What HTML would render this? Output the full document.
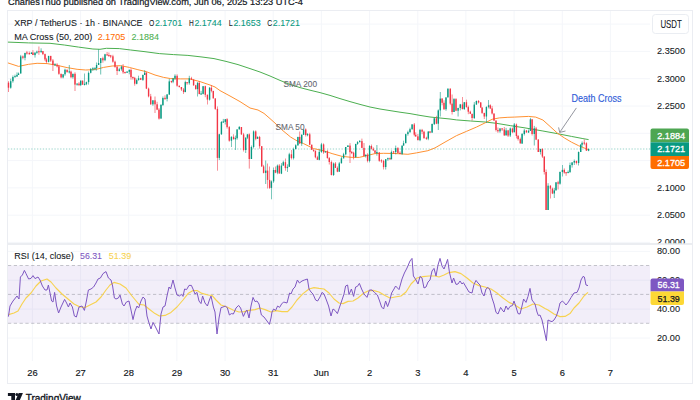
<!DOCTYPE html>
<html><head><meta charset="utf-8"><title>XRP / TetherUS chart</title>
<style>
html,body{margin:0;padding:0;background:#fff;}
body{width:700px;height:400px;overflow:hidden;font-family:"Liberation Sans",sans-serif;}
svg{display:block}
svg text{font-family:"Liberation Sans",sans-serif;}
</style></head><body>
<svg width="700" height="400" viewBox="0 0 700 400">
<rect width="700" height="400" fill="#fff"/>
<!-- top caption -->
<text x="8" y="4.6" font-size="9.9" fill="#131722" stroke="#131722" stroke-width="0.22" textLength="295" lengthAdjust="spacingAndGlyphs">CharlesThuo published on TradingView.com, Jun 06, 2025 13:23 UTC-4</text>
<!-- grid -->
<path d="M32.4 11V243M32.4 245V361" stroke="#f4f6fa" stroke-width="1"/><path d="M80.6 11V243M80.6 245V361" stroke="#f4f6fa" stroke-width="1"/><path d="M128.7 11V243M128.7 245V361" stroke="#f4f6fa" stroke-width="1"/><path d="M176.9 11V243M176.9 245V361" stroke="#f4f6fa" stroke-width="1"/><path d="M225.1 11V243M225.1 245V361" stroke="#f4f6fa" stroke-width="1"/><path d="M273.2 11V243M273.2 245V361" stroke="#f4f6fa" stroke-width="1"/><path d="M321.4 11V243M321.4 245V361" stroke="#f4f6fa" stroke-width="1"/><path d="M369.6 11V243M369.6 245V361" stroke="#f4f6fa" stroke-width="1"/><path d="M417.8 11V243M417.8 245V361" stroke="#f4f6fa" stroke-width="1"/><path d="M465.9 11V243M465.9 245V361" stroke="#f4f6fa" stroke-width="1"/><path d="M514.1 11V243M514.1 245V361" stroke="#f4f6fa" stroke-width="1"/><path d="M562.3 11V243M562.3 245V361" stroke="#f4f6fa" stroke-width="1"/><path d="M610.4 11V243M610.4 245V361" stroke="#f4f6fa" stroke-width="1"/><path d="M8 24.1H650" stroke="#f4f6fa" stroke-width="1"/><path d="M8 51.4H650" stroke="#f4f6fa" stroke-width="1"/><path d="M8 78.7H650" stroke="#f4f6fa" stroke-width="1"/><path d="M8 106.0H650" stroke="#f4f6fa" stroke-width="1"/><path d="M8 133.3H650" stroke="#f4f6fa" stroke-width="1"/><path d="M8 160.6H650" stroke="#f4f6fa" stroke-width="1"/><path d="M8 187.9H650" stroke="#f4f6fa" stroke-width="1"/><path d="M8 215.2H650" stroke="#f4f6fa" stroke-width="1"/><path d="M8 242.4H650" stroke="#f4f6fa" stroke-width="1"/><path d="M8 251.4H650" stroke="#f4f6fa" stroke-width="1"/><path d="M8 280.2H650" stroke="#f4f6fa" stroke-width="1"/><path d="M8 309.1H650" stroke="#f4f6fa" stroke-width="1"/><path d="M8 338.0H650" stroke="#f4f6fa" stroke-width="1"/>
<!-- rsi band -->
<rect x="8" y="265.5" width="642" height="57.8" fill="#7e57c2" opacity="0.1"/>
<path d="M8 265.5H650M8 294.4H650M8 323.3H650" stroke="#787b86" stroke-width="0.75" stroke-dasharray="3.2 2.6" opacity="0.55"/>
<!-- frame -->
<rect x="7.5" y="10.5" width="685" height="373" fill="none" stroke="#ebedf2" stroke-width="1"/>
<path d="M8 244H692" stroke="#e4e7ed" stroke-width="1.5"/>
<!-- price dotted line -->
<path d="M8 149H650" stroke="#089981" stroke-width="0.9" stroke-dasharray="1.3 1.6" opacity="0.45"/>
<!-- SMAs -->
<polyline points="7.9,42.1 28.6,42.9 50.0,43.3 64.3,45.0 78.6,47.1 92.9,49.0 100.0,49.3 106.4,48.3 119.3,48.6 130.7,50.0 145.0,51.7 159.3,53.6 173.6,54.6 187.9,55.4 202.0,57.0 214.0,58.6 226.0,61.4 238.0,64.6 250.0,68.6 260.0,72.0 270.0,76.0 280.0,80.4 290.0,84.4 300.0,87.6 310.0,90.2 320.0,92.6 330.0,95.4 340.0,98.6 350.0,101.6 360.0,104.4 370.0,107.0 380.0,109.0 390.0,110.6 400.0,112.2 410.0,113.6 420.0,115.4 430.0,117.0 440.0,118.0 450.0,119.0 456.4,119.9 470.7,121.0 485.0,122.0 496.4,123.3 510.7,125.7 525.0,127.9 542.9,131.0 557.1,133.6 571.4,136.4 582.9,138.6 588.6,139.6" fill="none" stroke="#4caf50" stroke-width="1" stroke-linejoin="round"/>
<polyline points="7.9,62.9 18.6,66.4 28.6,64.3 37.1,63.3 47.1,63.6 57.1,65.3 67.1,67.6 77.1,69.3 85.7,70.0 92.9,69.7 98.0,68.9 103.6,67.4 112.1,66.0 120.7,65.7 129.3,67.4 137.9,69.7 146.4,71.7 155.0,75.0 163.6,77.4 170.7,78.6 180.7,78.9 189.3,78.9 190.0,79.0 200.0,81.6 210.0,85.0 215.0,87.0 220.0,90.6 230.0,96.0 240.0,101.6 250.0,108.0 258.0,110.0 264.0,113.4 270.0,118.6 276.0,124.0 282.1,130.0 290.7,137.1 297.9,141.4 303.6,143.6 313.6,148.6 323.6,150.7 332.1,153.6 342.1,156.4 352.1,157.4 359.3,157.4 366.4,155.7 375.0,153.6 383.6,153.3 395.0,153.5 407.9,154.3 416.4,152.9 427.9,150.7 435.0,147.9 445.0,142.1 456.4,135.7 466.4,131.4 476.4,127.1 485.0,122.9 492.1,119.3 499.3,117.9 507.9,117.3 514.3,117.1 528.6,116.4 535.7,117.1 542.9,120.0 550.0,126.4 557.1,132.9 564.3,137.9 571.4,142.1 578.6,145.7 585.7,148.6 588.6,149.6" fill="none" stroke="#ff9233" stroke-width="1" stroke-linejoin="round"/>
<!-- candles -->
<path d="M8.5 81.2V92.0" stroke="#f23645" stroke-width="0.7" opacity="0.85"/><rect x="7.8" y="82.7" width="1.4" height="5.0" fill="#f23645"/>
<path d="M10.7 78.7V88.7" stroke="#089981" stroke-width="0.7" opacity="0.85"/><rect x="10.0" y="81.2" width="1.4" height="6.5" fill="#089981"/>
<path d="M12.9 75.5V82.7" stroke="#089981" stroke-width="0.7" opacity="0.85"/><rect x="12.2" y="77.0" width="1.4" height="4.2" fill="#089981"/>
<path d="M15.0 74.6V77.3" stroke="#089981" stroke-width="0.7" opacity="0.85"/><rect x="14.3" y="76.1" width="1.4" height="1.2" fill="#089981"/>
<path d="M17.0 72.4V77.0" stroke="#089981" stroke-width="0.7" opacity="0.85"/><rect x="16.3" y="74.9" width="1.4" height="1.6" fill="#089981"/>
<path d="M18.5 72.5V74.9" stroke="#089981" stroke-width="0.7" opacity="0.85"/><rect x="17.8" y="73.5" width="1.4" height="1.5" fill="#089981"/>
<path d="M20.7 54.9V73.5" stroke="#089981" stroke-width="0.7" opacity="0.85"/><rect x="20.0" y="56.4" width="1.4" height="17.1" fill="#089981"/>
<path d="M22.9 55.4V59.3" stroke="#f23645" stroke-width="0.7" opacity="0.85"/><rect x="22.2" y="56.4" width="1.4" height="1.4" fill="#f23645"/>
<path d="M25.0 52.9V60.3" stroke="#089981" stroke-width="0.7" opacity="0.85"/><rect x="24.3" y="52.9" width="1.4" height="4.9" fill="#089981"/>
<path d="M26.9 50.9V54.6" stroke="#f23645" stroke-width="0.7" opacity="0.85"/><rect x="26.2" y="52.4" width="1.4" height="1.2" fill="#f23645"/>
<path d="M29.3 51.5V54.7" stroke="#f23645" stroke-width="0.7" opacity="0.85"/><rect x="28.6" y="53.0" width="1.4" height="1.2" fill="#f23645"/>
<path d="M31.4 52.1V54.0" stroke="#089981" stroke-width="0.7" opacity="0.85"/><rect x="30.7" y="52.6" width="1.4" height="1.4" fill="#089981"/>
<path d="M32.9 50.1V55.1" stroke="#f23645" stroke-width="0.7" opacity="0.85"/><rect x="32.2" y="52.6" width="1.4" height="2.4" fill="#f23645"/>
<path d="M35.0 52.2V57.6" stroke="#089981" stroke-width="0.7" opacity="0.85"/><rect x="34.3" y="52.7" width="1.4" height="2.4" fill="#089981"/>
<path d="M36.9 50.6V53.8" stroke="#089981" stroke-width="0.7" opacity="0.85"/><rect x="36.2" y="51.6" width="1.4" height="1.2" fill="#089981"/>
<path d="M38.9 46.5V54.8" stroke="#f23645" stroke-width="0.7" opacity="0.85"/><rect x="38.2" y="51.1" width="1.4" height="1.2" fill="#f23645"/>
<path d="M41.1 48.3V53.0" stroke="#089981" stroke-width="0.7" opacity="0.85"/><rect x="40.4" y="50.8" width="1.4" height="1.2" fill="#089981"/>
<path d="M42.9 51.1V55.1" stroke="#f23645" stroke-width="0.7" opacity="0.85"/><rect x="42.2" y="51.1" width="1.4" height="3.0" fill="#f23645"/>
<path d="M45.0 53.6V60.9" stroke="#f23645" stroke-width="0.7" opacity="0.85"/><rect x="44.3" y="54.1" width="1.4" height="5.3" fill="#f23645"/>
<path d="M46.4 57.9V63.4" stroke="#f23645" stroke-width="0.7" opacity="0.85"/><rect x="45.7" y="59.4" width="1.4" height="2.5" fill="#f23645"/>
<path d="M48.6 55.9V62.4" stroke="#089981" stroke-width="0.7" opacity="0.85"/><rect x="47.9" y="55.9" width="1.4" height="6.0" fill="#089981"/>
<path d="M50.7 55.9V62.0" stroke="#f23645" stroke-width="0.7" opacity="0.85"/><rect x="50.0" y="55.9" width="1.4" height="4.7" fill="#f23645"/>
<path d="M52.9 59.0V71.0" stroke="#f23645" stroke-width="0.7" opacity="0.85"/><rect x="52.2" y="60.5" width="1.4" height="4.4" fill="#f23645"/>
<path d="M55.0 63.2V65.9" stroke="#089981" stroke-width="0.7" opacity="0.85"/><rect x="54.3" y="64.2" width="1.4" height="1.2" fill="#089981"/>
<path d="M57.1 63.2V67.4" stroke="#f23645" stroke-width="0.7" opacity="0.85"/><rect x="56.4" y="64.7" width="1.4" height="1.7" fill="#f23645"/>
<path d="M58.9 64.9V74.8" stroke="#f23645" stroke-width="0.7" opacity="0.85"/><rect x="58.2" y="66.4" width="1.4" height="7.4" fill="#f23645"/>
<path d="M61.1 73.8V78.4" stroke="#f23645" stroke-width="0.7" opacity="0.85"/><rect x="60.4" y="73.8" width="1.4" height="3.6" fill="#f23645"/>
<path d="M63.1 74.3V78.4" stroke="#089981" stroke-width="0.7" opacity="0.85"/><rect x="62.4" y="74.3" width="1.4" height="3.1" fill="#089981"/>
<path d="M65.0 68.7V75.8" stroke="#089981" stroke-width="0.7" opacity="0.85"/><rect x="64.3" y="69.7" width="1.4" height="4.6" fill="#089981"/>
<path d="M67.1 69.7V72.7" stroke="#f23645" stroke-width="0.7" opacity="0.85"/><rect x="66.4" y="69.7" width="1.4" height="2.4" fill="#f23645"/>
<path d="M69.3 65.0V73.5" stroke="#089981" stroke-width="0.7" opacity="0.85"/><rect x="68.6" y="71.3" width="1.4" height="1.2" fill="#089981"/>
<path d="M71.0 70.6V78.2" stroke="#f23645" stroke-width="0.7" opacity="0.85"/><rect x="70.3" y="71.6" width="1.4" height="5.6" fill="#f23645"/>
<path d="M72.9 73.8V78.7" stroke="#089981" stroke-width="0.7" opacity="0.85"/><rect x="72.2" y="73.8" width="1.4" height="3.4" fill="#089981"/>
<path d="M75.0 72.3V91.0" stroke="#f23645" stroke-width="0.7" opacity="0.85"/><rect x="74.3" y="73.8" width="1.4" height="10.8" fill="#f23645"/>
<path d="M77.1 83.5V85.7" stroke="#089981" stroke-width="0.7" opacity="0.85"/><rect x="76.4" y="83.5" width="1.4" height="1.2" fill="#089981"/>
<path d="M79.0 82.1V86.1" stroke="#f23645" stroke-width="0.7" opacity="0.85"/><rect x="78.3" y="83.6" width="1.4" height="1.5" fill="#f23645"/>
<path d="M80.7 80.6V86.1" stroke="#089981" stroke-width="0.7" opacity="0.85"/><rect x="80.0" y="80.6" width="1.4" height="4.5" fill="#089981"/>
<path d="M82.6 80.6V84.7" stroke="#f23645" stroke-width="0.7" opacity="0.85"/><rect x="81.9" y="80.6" width="1.4" height="4.1" fill="#f23645"/>
<path d="M84.6 73.5V85.5" stroke="#089981" stroke-width="0.7" opacity="0.85"/><rect x="83.9" y="83.8" width="1.4" height="1.2" fill="#089981"/>
<path d="M86.4 81.6V85.2" stroke="#089981" stroke-width="0.7" opacity="0.85"/><rect x="85.7" y="82.1" width="1.4" height="2.1" fill="#089981"/>
<path d="M88.6 71.4V84.6" stroke="#089981" stroke-width="0.7" opacity="0.85"/><rect x="87.9" y="72.9" width="1.4" height="9.2" fill="#089981"/>
<path d="M90.7 68.0V73.4" stroke="#089981" stroke-width="0.7" opacity="0.85"/><rect x="90.0" y="69.0" width="1.4" height="3.8" fill="#089981"/>
<path d="M92.9 67.2V70.9" stroke="#089981" stroke-width="0.7" opacity="0.85"/><rect x="92.2" y="68.2" width="1.4" height="1.2" fill="#089981"/>
<path d="M95.0 67.7V70.4" stroke="#089981" stroke-width="0.7" opacity="0.85"/><rect x="94.3" y="67.7" width="1.4" height="1.2" fill="#089981"/>
<path d="M96.6 62.5V70.6" stroke="#089981" stroke-width="0.7" opacity="0.85"/><rect x="95.9" y="65.0" width="1.4" height="3.0" fill="#089981"/>
<path d="M98.6 49.3V65.0" stroke="#089981" stroke-width="0.7" opacity="0.85"/><rect x="97.9" y="63.0" width="1.4" height="2.0" fill="#089981"/>
<path d="M100.7 58.2V74.5" stroke="#089981" stroke-width="0.7" opacity="0.85"/><rect x="100.0" y="58.2" width="1.4" height="4.8" fill="#089981"/>
<path d="M102.9 56.7V62.7" stroke="#f23645" stroke-width="0.7" opacity="0.85"/><rect x="102.2" y="58.2" width="1.4" height="2.1" fill="#f23645"/>
<path d="M105.0 53.8V61.2" stroke="#089981" stroke-width="0.7" opacity="0.85"/><rect x="104.3" y="54.3" width="1.4" height="5.9" fill="#089981"/>
<path d="M107.1 52.0V55.5" stroke="#f23645" stroke-width="0.7" opacity="0.85"/><rect x="106.4" y="54.3" width="1.4" height="1.2" fill="#f23645"/>
<path d="M108.9 52.5V56.7" stroke="#f23645" stroke-width="0.7" opacity="0.85"/><rect x="108.2" y="55.0" width="1.4" height="1.2" fill="#f23645"/>
<path d="M110.7 54.9V58.1" stroke="#f23645" stroke-width="0.7" opacity="0.85"/><rect x="110.0" y="55.4" width="1.4" height="1.2" fill="#f23645"/>
<path d="M112.9 54.8V62.7" stroke="#f23645" stroke-width="0.7" opacity="0.85"/><rect x="112.2" y="56.3" width="1.4" height="5.4" fill="#f23645"/>
<path d="M115.0 60.7V67.8" stroke="#f23645" stroke-width="0.7" opacity="0.85"/><rect x="114.3" y="61.7" width="1.4" height="5.1" fill="#f23645"/>
<path d="M117.1 65.8V75.0" stroke="#f23645" stroke-width="0.7" opacity="0.85"/><rect x="116.4" y="66.8" width="1.4" height="4.2" fill="#f23645"/>
<path d="M119.3 67.8V71.5" stroke="#089981" stroke-width="0.7" opacity="0.85"/><rect x="118.6" y="69.3" width="1.4" height="1.7" fill="#089981"/>
<path d="M121.4 65.6V70.8" stroke="#089981" stroke-width="0.7" opacity="0.85"/><rect x="120.7" y="66.6" width="1.4" height="2.7" fill="#089981"/>
<path d="M123.1 64.1V73.8" stroke="#f23645" stroke-width="0.7" opacity="0.85"/><rect x="122.4" y="66.6" width="1.4" height="5.7" fill="#f23645"/>
<path d="M125.0 71.9V73.6" stroke="#f23645" stroke-width="0.7" opacity="0.85"/><rect x="124.3" y="71.9" width="1.4" height="1.2" fill="#f23645"/>
<path d="M127.1 71.1V72.8" stroke="#089981" stroke-width="0.7" opacity="0.85"/><rect x="126.4" y="71.6" width="1.4" height="1.2" fill="#089981"/>
<path d="M129.3 69.4V74.3" stroke="#089981" stroke-width="0.7" opacity="0.85"/><rect x="128.6" y="69.9" width="1.4" height="1.9" fill="#089981"/>
<path d="M131.0 68.4V79.7" stroke="#f23645" stroke-width="0.7" opacity="0.85"/><rect x="130.3" y="69.9" width="1.4" height="7.3" fill="#f23645"/>
<path d="M132.9 76.5V79.7" stroke="#f23645" stroke-width="0.7" opacity="0.85"/><rect x="132.2" y="77.0" width="1.4" height="1.2" fill="#f23645"/>
<path d="M134.7 76.9V85.7" stroke="#f23645" stroke-width="0.7" opacity="0.85"/><rect x="134.0" y="77.9" width="1.4" height="5.8" fill="#f23645"/>
<path d="M136.7 78.6V84.3" stroke="#089981" stroke-width="0.7" opacity="0.85"/><rect x="136.0" y="80.1" width="1.4" height="3.7" fill="#089981"/>
<path d="M138.6 75.7V80.6" stroke="#089981" stroke-width="0.7" opacity="0.85"/><rect x="137.9" y="78.2" width="1.4" height="1.9" fill="#089981"/>
<path d="M140.7 77.7V79.9" stroke="#f23645" stroke-width="0.7" opacity="0.85"/><rect x="140.0" y="78.2" width="1.4" height="1.6" fill="#f23645"/>
<path d="M142.9 74.5V80.9" stroke="#089981" stroke-width="0.7" opacity="0.85"/><rect x="142.2" y="75.0" width="1.4" height="4.9" fill="#089981"/>
<path d="M144.7 70.2V75.0" stroke="#089981" stroke-width="0.7" opacity="0.85"/><rect x="144.0" y="72.7" width="1.4" height="2.3" fill="#089981"/>
<path d="M146.4 71.7V89.1" stroke="#f23645" stroke-width="0.7" opacity="0.85"/><rect x="145.7" y="72.7" width="1.4" height="15.9" fill="#f23645"/>
<path d="M148.6 87.6V97.4" stroke="#f23645" stroke-width="0.7" opacity="0.85"/><rect x="147.9" y="88.6" width="1.4" height="7.8" fill="#f23645"/>
<path d="M150.7 93.9V104.8" stroke="#f23645" stroke-width="0.7" opacity="0.85"/><rect x="150.0" y="96.4" width="1.4" height="7.9" fill="#f23645"/>
<path d="M152.9 100.3V105.8" stroke="#089981" stroke-width="0.7" opacity="0.85"/><rect x="152.2" y="100.3" width="1.4" height="4.0" fill="#089981"/>
<path d="M155.0 96.5V113.0" stroke="#f23645" stroke-width="0.7" opacity="0.85"/><rect x="154.3" y="100.3" width="1.4" height="4.0" fill="#f23645"/>
<path d="M157.1 101.8V110.1" stroke="#f23645" stroke-width="0.7" opacity="0.85"/><rect x="156.4" y="104.3" width="1.4" height="5.3" fill="#f23645"/>
<path d="M159.0 108.1V119.6" stroke="#f23645" stroke-width="0.7" opacity="0.85"/><rect x="158.3" y="109.6" width="1.4" height="9.0" fill="#f23645"/>
<path d="M161.0 104.0V118.6" stroke="#089981" stroke-width="0.7" opacity="0.85"/><rect x="160.3" y="105.0" width="1.4" height="13.6" fill="#089981"/>
<path d="M162.9 96.5V106.0" stroke="#089981" stroke-width="0.7" opacity="0.85"/><rect x="162.2" y="98.0" width="1.4" height="7.0" fill="#089981"/>
<path d="M165.0 95.3V100.0" stroke="#f23645" stroke-width="0.7" opacity="0.85"/><rect x="164.3" y="97.8" width="1.4" height="1.2" fill="#f23645"/>
<path d="M167.1 94.0V101.4" stroke="#089981" stroke-width="0.7" opacity="0.85"/><rect x="166.4" y="94.5" width="1.4" height="4.4" fill="#089981"/>
<path d="M169.3 78.9V95.0" stroke="#089981" stroke-width="0.7" opacity="0.85"/><rect x="168.6" y="81.4" width="1.4" height="13.1" fill="#089981"/>
<path d="M171.4 80.9V83.1" stroke="#f23645" stroke-width="0.7" opacity="0.85"/><rect x="170.7" y="80.9" width="1.4" height="1.2" fill="#f23645"/>
<path d="M173.1 77.9V83.2" stroke="#089981" stroke-width="0.7" opacity="0.85"/><rect x="172.4" y="78.4" width="1.4" height="3.3" fill="#089981"/>
<path d="M175.0 74.3V79.9" stroke="#089981" stroke-width="0.7" opacity="0.85"/><rect x="174.3" y="75.8" width="1.4" height="2.6" fill="#089981"/>
<path d="M177.1 74.3V86.7" stroke="#f23645" stroke-width="0.7" opacity="0.85"/><rect x="176.4" y="75.8" width="1.4" height="9.9" fill="#f23645"/>
<path d="M179.3 85.7V87.5" stroke="#f23645" stroke-width="0.7" opacity="0.85"/><rect x="178.6" y="85.7" width="1.4" height="1.3" fill="#f23645"/>
<path d="M181.4 87.0V91.0" stroke="#f23645" stroke-width="0.7" opacity="0.85"/><rect x="180.7" y="87.0" width="1.4" height="2.5" fill="#f23645"/>
<path d="M183.6 88.0V94.0" stroke="#f23645" stroke-width="0.7" opacity="0.85"/><rect x="182.9" y="89.5" width="1.4" height="2.6" fill="#f23645"/>
<path d="M185.3 80.6V92.1" stroke="#089981" stroke-width="0.7" opacity="0.85"/><rect x="184.6" y="82.1" width="1.4" height="10.0" fill="#089981"/>
<path d="M187.1 82.1V84.8" stroke="#f23645" stroke-width="0.7" opacity="0.85"/><rect x="186.4" y="82.1" width="1.4" height="1.2" fill="#f23645"/>
<path d="M189.3 75.8V84.7" stroke="#089981" stroke-width="0.7" opacity="0.85"/><rect x="188.6" y="78.3" width="1.4" height="4.9" fill="#089981"/>
<path d="M191.4 76.8V80.0" stroke="#f23645" stroke-width="0.7" opacity="0.85"/><rect x="190.7" y="78.3" width="1.4" height="1.2" fill="#f23645"/>
<path d="M193.6 79.5V85.8" stroke="#f23645" stroke-width="0.7" opacity="0.85"/><rect x="192.9" y="79.5" width="1.4" height="5.8" fill="#f23645"/>
<path d="M195.7 84.8V89.6" stroke="#f23645" stroke-width="0.7" opacity="0.85"/><rect x="195.0" y="85.3" width="1.4" height="3.8" fill="#f23645"/>
<path d="M197.6 82.0V96.5" stroke="#089981" stroke-width="0.7" opacity="0.85"/><rect x="196.9" y="82.9" width="1.4" height="6.2" fill="#089981"/>
<path d="M199.3 81.4V94.1" stroke="#f23645" stroke-width="0.7" opacity="0.85"/><rect x="198.6" y="82.9" width="1.4" height="11.2" fill="#f23645"/>
<path d="M201.1 90.9V94.6" stroke="#089981" stroke-width="0.7" opacity="0.85"/><rect x="200.4" y="93.4" width="1.4" height="1.2" fill="#089981"/>
<path d="M203.1 86.2V94.4" stroke="#089981" stroke-width="0.7" opacity="0.85"/><rect x="202.4" y="86.2" width="1.4" height="7.7" fill="#089981"/>
<path d="M205.3 85.7V97.2" stroke="#f23645" stroke-width="0.7" opacity="0.85"/><rect x="204.6" y="86.2" width="1.4" height="8.6" fill="#f23645"/>
<path d="M207.4 94.7V104.5" stroke="#f23645" stroke-width="0.7" opacity="0.85"/><rect x="206.7" y="94.7" width="1.4" height="4.9" fill="#f23645"/>
<path d="M209.6 87.2V100.6" stroke="#089981" stroke-width="0.7" opacity="0.85"/><rect x="208.9" y="87.7" width="1.4" height="12.0" fill="#089981"/>
<path d="M211.4 85.2V92.4" stroke="#f23645" stroke-width="0.7" opacity="0.85"/><rect x="210.7" y="87.7" width="1.4" height="3.2" fill="#f23645"/>
<path d="M213.3 90.9V98.4" stroke="#f23645" stroke-width="0.7" opacity="0.85"/><rect x="212.6" y="90.9" width="1.4" height="7.5" fill="#f23645"/>
<path d="M215.3 98.4V109.9" stroke="#f23645" stroke-width="0.7" opacity="0.85"/><rect x="214.6" y="98.4" width="1.4" height="10.5" fill="#f23645"/>
<path d="M217.4 106.4V170.7" stroke="#f23645" stroke-width="0.7" opacity="0.85"/><rect x="216.7" y="108.9" width="1.4" height="49.0" fill="#f23645"/>
<path d="M219.3 133.8V160.0" stroke="#089981" stroke-width="0.7" opacity="0.85"/><rect x="218.6" y="134.3" width="1.4" height="23.6" fill="#089981"/>
<path d="M221.4 121.0V134.8" stroke="#089981" stroke-width="0.7" opacity="0.85"/><rect x="220.7" y="122.0" width="1.4" height="12.3" fill="#089981"/>
<path d="M223.3 118.9V122.6" stroke="#089981" stroke-width="0.7" opacity="0.85"/><rect x="222.6" y="121.4" width="1.4" height="1.2" fill="#089981"/>
<path d="M225.3 119.2V124.5" stroke="#089981" stroke-width="0.7" opacity="0.85"/><rect x="224.6" y="119.2" width="1.4" height="2.7" fill="#089981"/>
<path d="M227.1 118.2V128.6" stroke="#f23645" stroke-width="0.7" opacity="0.85"/><rect x="226.4" y="119.2" width="1.4" height="7.9" fill="#f23645"/>
<path d="M229.3 126.1V141.7" stroke="#f23645" stroke-width="0.7" opacity="0.85"/><rect x="228.6" y="127.1" width="1.4" height="13.6" fill="#f23645"/>
<path d="M231.4 136.3V147.0" stroke="#089981" stroke-width="0.7" opacity="0.85"/><rect x="230.7" y="136.8" width="1.4" height="3.9" fill="#089981"/>
<path d="M233.6 134.3V139.7" stroke="#f23645" stroke-width="0.7" opacity="0.85"/><rect x="232.9" y="136.8" width="1.4" height="2.3" fill="#f23645"/>
<path d="M235.4 135.6V150.0" stroke="#089981" stroke-width="0.7" opacity="0.85"/><rect x="234.7" y="138.1" width="1.4" height="1.2" fill="#089981"/>
<path d="M237.1 129.4V139.7" stroke="#089981" stroke-width="0.7" opacity="0.85"/><rect x="236.4" y="129.4" width="1.4" height="8.8" fill="#089981"/>
<path d="M239.3 126.0V129.4" stroke="#089981" stroke-width="0.7" opacity="0.85"/><rect x="238.6" y="127.0" width="1.4" height="2.4" fill="#089981"/>
<path d="M241.4 127.0V134.9" stroke="#f23645" stroke-width="0.7" opacity="0.85"/><rect x="240.7" y="127.0" width="1.4" height="7.4" fill="#f23645"/>
<path d="M243.6 132.9V151.5" stroke="#f23645" stroke-width="0.7" opacity="0.85"/><rect x="242.9" y="134.4" width="1.4" height="15.6" fill="#f23645"/>
<path d="M245.7 137.6V153.0" stroke="#089981" stroke-width="0.7" opacity="0.85"/><rect x="245.0" y="137.6" width="1.4" height="12.4" fill="#089981"/>
<path d="M247.4 133.9V139.1" stroke="#089981" stroke-width="0.7" opacity="0.85"/><rect x="246.7" y="134.4" width="1.4" height="3.3" fill="#089981"/>
<path d="M249.3 133.4V168.6" stroke="#f23645" stroke-width="0.7" opacity="0.85"/><rect x="248.6" y="134.4" width="1.4" height="24.6" fill="#f23645"/>
<path d="M251.4 145.5V159.0" stroke="#089981" stroke-width="0.7" opacity="0.85"/><rect x="250.7" y="147.0" width="1.4" height="12.0" fill="#089981"/>
<path d="M253.6 130.4V148.5" stroke="#089981" stroke-width="0.7" opacity="0.85"/><rect x="252.9" y="131.4" width="1.4" height="15.6" fill="#089981"/>
<path d="M255.7 130.4V140.3" stroke="#f23645" stroke-width="0.7" opacity="0.85"/><rect x="255.0" y="131.4" width="1.4" height="7.4" fill="#f23645"/>
<path d="M257.6 136.4V138.8" stroke="#089981" stroke-width="0.7" opacity="0.85"/><rect x="256.9" y="136.9" width="1.4" height="1.9" fill="#089981"/>
<path d="M259.6 135.9V148.7" stroke="#f23645" stroke-width="0.7" opacity="0.85"/><rect x="258.9" y="136.9" width="1.4" height="9.3" fill="#f23645"/>
<path d="M261.7 146.2V166.9" stroke="#f23645" stroke-width="0.7" opacity="0.85"/><rect x="261.0" y="146.2" width="1.4" height="20.2" fill="#f23645"/>
<path d="M263.6 164.9V173.4" stroke="#f23645" stroke-width="0.7" opacity="0.85"/><rect x="262.9" y="166.4" width="1.4" height="6.5" fill="#f23645"/>
<path d="M265.7 160.5V184.0" stroke="#089981" stroke-width="0.7" opacity="0.85"/><rect x="265.0" y="170.6" width="1.4" height="2.3" fill="#089981"/>
<path d="M267.6 163.5V188.5" stroke="#f23645" stroke-width="0.7" opacity="0.85"/><rect x="266.9" y="170.6" width="1.4" height="9.3" fill="#f23645"/>
<path d="M269.6 166.5V188.9" stroke="#f23645" stroke-width="0.7" opacity="0.85"/><rect x="268.9" y="179.9" width="1.4" height="8.0" fill="#f23645"/>
<path d="M271.4 180.4V199.3" stroke="#089981" stroke-width="0.7" opacity="0.85"/><rect x="270.7" y="181.4" width="1.4" height="6.5" fill="#089981"/>
<path d="M273.6 167.5V182.9" stroke="#089981" stroke-width="0.7" opacity="0.85"/><rect x="272.9" y="170.0" width="1.4" height="11.4" fill="#089981"/>
<path d="M275.4 166.5V173.2" stroke="#f23645" stroke-width="0.7" opacity="0.85"/><rect x="274.7" y="170.0" width="1.4" height="2.7" fill="#f23645"/>
<path d="M277.4 164.5V174.2" stroke="#089981" stroke-width="0.7" opacity="0.85"/><rect x="276.7" y="165.6" width="1.4" height="7.0" fill="#089981"/>
<path d="M279.3 164.1V173.6" stroke="#f23645" stroke-width="0.7" opacity="0.85"/><rect x="278.6" y="165.6" width="1.4" height="7.9" fill="#f23645"/>
<path d="M281.4 163.1V174.1" stroke="#089981" stroke-width="0.7" opacity="0.85"/><rect x="280.7" y="165.6" width="1.4" height="8.0" fill="#089981"/>
<path d="M283.3 160.7V165.6" stroke="#089981" stroke-width="0.7" opacity="0.85"/><rect x="282.6" y="162.2" width="1.4" height="3.4" fill="#089981"/>
<path d="M285.4 158.5V170.7" stroke="#f23645" stroke-width="0.7" opacity="0.85"/><rect x="284.7" y="162.2" width="1.4" height="5.9" fill="#f23645"/>
<path d="M287.4 164.3V172.0" stroke="#089981" stroke-width="0.7" opacity="0.85"/><rect x="286.7" y="166.8" width="1.4" height="1.3" fill="#089981"/>
<path d="M289.3 152.8V166.8" stroke="#089981" stroke-width="0.7" opacity="0.85"/><rect x="288.6" y="154.3" width="1.4" height="12.5" fill="#089981"/>
<path d="M291.4 150.0V159.5" stroke="#f23645" stroke-width="0.7" opacity="0.85"/><rect x="290.7" y="154.3" width="1.4" height="3.8" fill="#f23645"/>
<path d="M293.6 147.6V159.6" stroke="#089981" stroke-width="0.7" opacity="0.85"/><rect x="292.9" y="149.1" width="1.4" height="9.1" fill="#089981"/>
<path d="M295.7 144.3V149.1" stroke="#089981" stroke-width="0.7" opacity="0.85"/><rect x="295.0" y="145.3" width="1.4" height="3.8" fill="#089981"/>
<path d="M297.9 136.9V145.8" stroke="#089981" stroke-width="0.7" opacity="0.85"/><rect x="297.2" y="136.9" width="1.4" height="8.4" fill="#089981"/>
<path d="M299.7 131.5V143.9" stroke="#f23645" stroke-width="0.7" opacity="0.85"/><rect x="299.0" y="136.9" width="1.4" height="6.5" fill="#f23645"/>
<path d="M301.7 134.3V145.9" stroke="#089981" stroke-width="0.7" opacity="0.85"/><rect x="301.0" y="134.8" width="1.4" height="8.6" fill="#089981"/>
<path d="M303.6 129.4V134.8" stroke="#089981" stroke-width="0.7" opacity="0.85"/><rect x="302.9" y="129.4" width="1.4" height="5.4" fill="#089981"/>
<path d="M305.7 128.4V136.5" stroke="#f23645" stroke-width="0.7" opacity="0.85"/><rect x="305.0" y="129.4" width="1.4" height="5.6" fill="#f23645"/>
<path d="M307.6 133.1V136.3" stroke="#089981" stroke-width="0.7" opacity="0.85"/><rect x="306.9" y="134.1" width="1.4" height="1.2" fill="#089981"/>
<path d="M309.7 132.8V145.2" stroke="#f23645" stroke-width="0.7" opacity="0.85"/><rect x="309.0" y="134.3" width="1.4" height="10.4" fill="#f23645"/>
<path d="M311.7 144.7V149.8" stroke="#f23645" stroke-width="0.7" opacity="0.85"/><rect x="311.0" y="144.7" width="1.4" height="5.1" fill="#f23645"/>
<path d="M313.6 149.7V151.9" stroke="#f23645" stroke-width="0.7" opacity="0.85"/><rect x="312.9" y="149.7" width="1.4" height="1.2" fill="#f23645"/>
<path d="M315.4 150.7V158.3" stroke="#f23645" stroke-width="0.7" opacity="0.85"/><rect x="314.7" y="150.7" width="1.4" height="6.6" fill="#f23645"/>
<path d="M317.4 155.8V159.8" stroke="#f23645" stroke-width="0.7" opacity="0.85"/><rect x="316.7" y="157.3" width="1.4" height="2.5" fill="#f23645"/>
<path d="M319.3 149.4V160.3" stroke="#089981" stroke-width="0.7" opacity="0.85"/><rect x="318.6" y="151.9" width="1.4" height="7.9" fill="#089981"/>
<path d="M321.4 142.9V152.9" stroke="#089981" stroke-width="0.7" opacity="0.85"/><rect x="320.7" y="144.4" width="1.4" height="7.5" fill="#089981"/>
<path d="M323.6 143.4V153.9" stroke="#f23645" stroke-width="0.7" opacity="0.85"/><rect x="322.9" y="144.4" width="1.4" height="8.0" fill="#f23645"/>
<path d="M325.4 151.3V152.5" stroke="#089981" stroke-width="0.7" opacity="0.85"/><rect x="324.7" y="151.3" width="1.4" height="1.2" fill="#089981"/>
<path d="M327.4 149.8V158.6" stroke="#f23645" stroke-width="0.7" opacity="0.85"/><rect x="326.7" y="151.3" width="1.4" height="6.8" fill="#f23645"/>
<path d="M329.3 157.1V164.5" stroke="#f23645" stroke-width="0.7" opacity="0.85"/><rect x="328.6" y="158.1" width="1.4" height="3.9" fill="#f23645"/>
<path d="M331.4 160.5V175.5" stroke="#f23645" stroke-width="0.7" opacity="0.85"/><rect x="330.7" y="162.0" width="1.4" height="13.0" fill="#f23645"/>
<path d="M333.6 162.5V176.0" stroke="#089981" stroke-width="0.7" opacity="0.85"/><rect x="332.9" y="163.5" width="1.4" height="11.5" fill="#089981"/>
<path d="M335.4 162.0V167.9" stroke="#f23645" stroke-width="0.7" opacity="0.85"/><rect x="334.7" y="163.5" width="1.4" height="4.4" fill="#f23645"/>
<path d="M337.4 166.4V172.2" stroke="#f23645" stroke-width="0.7" opacity="0.85"/><rect x="336.7" y="167.9" width="1.4" height="3.8" fill="#f23645"/>
<path d="M339.3 161.9V171.7" stroke="#089981" stroke-width="0.7" opacity="0.85"/><rect x="338.6" y="163.4" width="1.4" height="8.3" fill="#089981"/>
<path d="M341.4 156.8V163.4" stroke="#089981" stroke-width="0.7" opacity="0.85"/><rect x="340.7" y="158.3" width="1.4" height="5.0" fill="#089981"/>
<path d="M343.6 152.8V158.3" stroke="#089981" stroke-width="0.7" opacity="0.85"/><rect x="342.9" y="154.3" width="1.4" height="4.1" fill="#089981"/>
<path d="M345.7 147.0V155.3" stroke="#089981" stroke-width="0.7" opacity="0.85"/><rect x="345.0" y="147.0" width="1.4" height="7.3" fill="#089981"/>
<path d="M347.9 145.1V147.0" stroke="#089981" stroke-width="0.7" opacity="0.85"/><rect x="347.2" y="145.6" width="1.4" height="1.4" fill="#089981"/>
<path d="M350.0 143.1V163.0" stroke="#f23645" stroke-width="0.7" opacity="0.85"/><rect x="349.3" y="145.6" width="1.4" height="6.6" fill="#f23645"/>
<path d="M351.7 150.9V154.1" stroke="#f23645" stroke-width="0.7" opacity="0.85"/><rect x="351.0" y="151.9" width="1.4" height="1.2" fill="#f23645"/>
<path d="M353.6 151.7V159.4" stroke="#f23645" stroke-width="0.7" opacity="0.85"/><rect x="352.9" y="152.7" width="1.4" height="4.2" fill="#f23645"/>
<path d="M355.7 143.9V157.9" stroke="#089981" stroke-width="0.7" opacity="0.85"/><rect x="355.0" y="143.9" width="1.4" height="13.1" fill="#089981"/>
<path d="M357.6 141.1V144.9" stroke="#089981" stroke-width="0.7" opacity="0.85"/><rect x="356.9" y="142.1" width="1.4" height="1.8" fill="#089981"/>
<path d="M359.7 140.0V142.2" stroke="#089981" stroke-width="0.7" opacity="0.85"/><rect x="359.0" y="141.0" width="1.4" height="1.2" fill="#089981"/>
<path d="M361.9 138.6V147.9" stroke="#f23645" stroke-width="0.7" opacity="0.85"/><rect x="361.2" y="141.1" width="1.4" height="6.8" fill="#f23645"/>
<path d="M364.0 143.0V156.5" stroke="#f23645" stroke-width="0.7" opacity="0.85"/><rect x="363.3" y="147.9" width="1.4" height="8.1" fill="#f23645"/>
<path d="M365.7 154.7V157.5" stroke="#089981" stroke-width="0.7" opacity="0.85"/><rect x="365.0" y="154.7" width="1.4" height="1.3" fill="#089981"/>
<path d="M367.6 153.2V162.4" stroke="#f23645" stroke-width="0.7" opacity="0.85"/><rect x="366.9" y="154.7" width="1.4" height="6.2" fill="#f23645"/>
<path d="M369.6 145.0V162.4" stroke="#089981" stroke-width="0.7" opacity="0.85"/><rect x="368.9" y="146.0" width="1.4" height="14.9" fill="#089981"/>
<path d="M371.4 144.5V149.3" stroke="#f23645" stroke-width="0.7" opacity="0.85"/><rect x="370.7" y="146.0" width="1.4" height="2.8" fill="#f23645"/>
<path d="M373.3 147.3V150.9" stroke="#f23645" stroke-width="0.7" opacity="0.85"/><rect x="372.6" y="148.8" width="1.4" height="1.6" fill="#f23645"/>
<path d="M375.0 150.4V153.7" stroke="#f23645" stroke-width="0.7" opacity="0.85"/><rect x="374.3" y="150.4" width="1.4" height="2.4" fill="#f23645"/>
<path d="M376.9 145.0V155.7" stroke="#089981" stroke-width="0.7" opacity="0.85"/><rect x="376.2" y="152.0" width="1.4" height="1.2" fill="#089981"/>
<path d="M379.3 152.0V161.8" stroke="#f23645" stroke-width="0.7" opacity="0.85"/><rect x="378.6" y="152.5" width="1.4" height="8.3" fill="#f23645"/>
<path d="M381.4 159.2V162.9" stroke="#f23645" stroke-width="0.7" opacity="0.85"/><rect x="380.7" y="160.2" width="1.4" height="1.2" fill="#f23645"/>
<path d="M383.6 159.9V169.5" stroke="#f23645" stroke-width="0.7" opacity="0.85"/><rect x="382.9" y="160.9" width="1.4" height="6.2" fill="#f23645"/>
<path d="M385.7 159.2V169.5" stroke="#089981" stroke-width="0.7" opacity="0.85"/><rect x="385.0" y="159.2" width="1.4" height="7.8" fill="#089981"/>
<path d="M387.9 157.6V160.8" stroke="#089981" stroke-width="0.7" opacity="0.85"/><rect x="387.2" y="158.1" width="1.4" height="1.2" fill="#089981"/>
<path d="M390.0 157.6V159.8" stroke="#f23645" stroke-width="0.7" opacity="0.85"/><rect x="389.3" y="158.1" width="1.4" height="1.2" fill="#f23645"/>
<path d="M391.4 150.4V159.3" stroke="#089981" stroke-width="0.7" opacity="0.85"/><rect x="390.7" y="151.9" width="1.4" height="7.4" fill="#089981"/>
<path d="M393.6 151.3V154.0" stroke="#f23645" stroke-width="0.7" opacity="0.85"/><rect x="392.9" y="151.3" width="1.4" height="1.2" fill="#f23645"/>
<path d="M395.7 145.6V154.4" stroke="#089981" stroke-width="0.7" opacity="0.85"/><rect x="395.0" y="148.1" width="1.4" height="3.9" fill="#089981"/>
<path d="M397.9 147.1V153.4" stroke="#f23645" stroke-width="0.7" opacity="0.85"/><rect x="397.2" y="148.1" width="1.4" height="4.8" fill="#f23645"/>
<path d="M400.0 151.3V154.0" stroke="#f23645" stroke-width="0.7" opacity="0.85"/><rect x="399.3" y="152.8" width="1.4" height="1.2" fill="#f23645"/>
<path d="M402.1 145.6V154.9" stroke="#089981" stroke-width="0.7" opacity="0.85"/><rect x="401.4" y="145.6" width="1.4" height="8.3" fill="#089981"/>
<path d="M403.6 140.7V145.6" stroke="#089981" stroke-width="0.7" opacity="0.85"/><rect x="402.9" y="143.2" width="1.4" height="2.4" fill="#089981"/>
<path d="M405.7 133.7V143.2" stroke="#089981" stroke-width="0.7" opacity="0.85"/><rect x="405.0" y="134.2" width="1.4" height="9.0" fill="#089981"/>
<path d="M407.9 130.7V135.7" stroke="#089981" stroke-width="0.7" opacity="0.85"/><rect x="407.2" y="132.2" width="1.4" height="1.9" fill="#089981"/>
<path d="M410.0 127.7V132.7" stroke="#089981" stroke-width="0.7" opacity="0.85"/><rect x="409.3" y="129.2" width="1.4" height="3.0" fill="#089981"/>
<path d="M412.1 124.0V129.7" stroke="#089981" stroke-width="0.7" opacity="0.85"/><rect x="411.4" y="124.5" width="1.4" height="4.7" fill="#089981"/>
<path d="M414.3 123.0V136.3" stroke="#f23645" stroke-width="0.7" opacity="0.85"/><rect x="413.6" y="124.5" width="1.4" height="10.2" fill="#f23645"/>
<path d="M415.7 132.3V136.9" stroke="#f23645" stroke-width="0.7" opacity="0.85"/><rect x="415.0" y="134.8" width="1.4" height="1.6" fill="#f23645"/>
<path d="M417.9 133.9V140.2" stroke="#f23645" stroke-width="0.7" opacity="0.85"/><rect x="417.2" y="136.4" width="1.4" height="3.8" fill="#f23645"/>
<path d="M420.0 128.9V141.2" stroke="#089981" stroke-width="0.7" opacity="0.85"/><rect x="419.3" y="129.9" width="1.4" height="10.3" fill="#089981"/>
<path d="M422.1 128.9V134.2" stroke="#f23645" stroke-width="0.7" opacity="0.85"/><rect x="421.4" y="129.9" width="1.4" height="1.8" fill="#f23645"/>
<path d="M424.0 130.7V139.0" stroke="#f23645" stroke-width="0.7" opacity="0.85"/><rect x="423.3" y="131.7" width="1.4" height="6.3" fill="#f23645"/>
<path d="M426.4 136.7V139.9" stroke="#f23645" stroke-width="0.7" opacity="0.85"/><rect x="425.7" y="137.7" width="1.4" height="1.2" fill="#f23645"/>
<path d="M428.3 131.1V140.2" stroke="#089981" stroke-width="0.7" opacity="0.85"/><rect x="427.6" y="131.6" width="1.4" height="7.0" fill="#089981"/>
<path d="M430.0 131.0V133.2" stroke="#f23645" stroke-width="0.7" opacity="0.85"/><rect x="429.3" y="131.5" width="1.4" height="1.2" fill="#f23645"/>
<path d="M432.1 123.5V133.0" stroke="#089981" stroke-width="0.7" opacity="0.85"/><rect x="431.4" y="124.0" width="1.4" height="8.5" fill="#089981"/>
<path d="M434.3 117.8V125.0" stroke="#089981" stroke-width="0.7" opacity="0.85"/><rect x="433.6" y="118.3" width="1.4" height="5.8" fill="#089981"/>
<path d="M436.4 115.8V124.2" stroke="#f23645" stroke-width="0.7" opacity="0.85"/><rect x="435.7" y="118.3" width="1.4" height="5.4" fill="#f23645"/>
<path d="M438.3 109.4V130.0" stroke="#089981" stroke-width="0.7" opacity="0.85"/><rect x="437.6" y="110.4" width="1.4" height="13.3" fill="#089981"/>
<path d="M440.3 92.0V116.5" stroke="#089981" stroke-width="0.7" opacity="0.85"/><rect x="439.6" y="98.6" width="1.4" height="11.8" fill="#089981"/>
<path d="M442.1 98.1V105.3" stroke="#f23645" stroke-width="0.7" opacity="0.85"/><rect x="441.4" y="98.6" width="1.4" height="4.2" fill="#f23645"/>
<path d="M444.0 100.3V109.8" stroke="#f23645" stroke-width="0.7" opacity="0.85"/><rect x="443.3" y="102.8" width="1.4" height="6.5" fill="#f23645"/>
<path d="M446.0 97.4V110.8" stroke="#089981" stroke-width="0.7" opacity="0.85"/><rect x="445.3" y="97.4" width="1.4" height="11.8" fill="#089981"/>
<path d="M447.9 88.6V97.4" stroke="#089981" stroke-width="0.7" opacity="0.85"/><rect x="447.2" y="88.6" width="1.4" height="8.8" fill="#089981"/>
<path d="M450.3 88.6V105.1" stroke="#f23645" stroke-width="0.7" opacity="0.85"/><rect x="449.6" y="88.6" width="1.4" height="15.0" fill="#f23645"/>
<path d="M452.1 94.5V114.5" stroke="#f23645" stroke-width="0.7" opacity="0.85"/><rect x="451.4" y="103.6" width="1.4" height="8.4" fill="#f23645"/>
<path d="M454.0 98.1V112.0" stroke="#089981" stroke-width="0.7" opacity="0.85"/><rect x="453.3" y="99.1" width="1.4" height="12.9" fill="#089981"/>
<path d="M456.0 98.1V111.2" stroke="#f23645" stroke-width="0.7" opacity="0.85"/><rect x="455.3" y="99.1" width="1.4" height="11.6" fill="#f23645"/>
<path d="M458.1 107.9V116.5" stroke="#089981" stroke-width="0.7" opacity="0.85"/><rect x="457.4" y="107.9" width="1.4" height="2.8" fill="#089981"/>
<path d="M460.3 103.9V110.4" stroke="#089981" stroke-width="0.7" opacity="0.85"/><rect x="459.6" y="104.4" width="1.4" height="3.5" fill="#089981"/>
<path d="M462.4 97.0V109.5" stroke="#f23645" stroke-width="0.7" opacity="0.85"/><rect x="461.7" y="104.4" width="1.4" height="4.6" fill="#f23645"/>
<path d="M464.3 102.2V110.0" stroke="#089981" stroke-width="0.7" opacity="0.85"/><rect x="463.6" y="102.2" width="1.4" height="6.8" fill="#089981"/>
<path d="M466.4 99.7V107.6" stroke="#f23645" stroke-width="0.7" opacity="0.85"/><rect x="465.7" y="102.2" width="1.4" height="4.9" fill="#f23645"/>
<path d="M468.3 105.6V114.2" stroke="#f23645" stroke-width="0.7" opacity="0.85"/><rect x="467.6" y="107.1" width="1.4" height="4.6" fill="#f23645"/>
<path d="M470.3 110.7V113.8" stroke="#f23645" stroke-width="0.7" opacity="0.85"/><rect x="469.6" y="111.7" width="1.4" height="2.1" fill="#f23645"/>
<path d="M472.1 113.8V120.5" stroke="#f23645" stroke-width="0.7" opacity="0.85"/><rect x="471.4" y="113.8" width="1.4" height="4.2" fill="#f23645"/>
<path d="M474.3 102.1V119.0" stroke="#089981" stroke-width="0.7" opacity="0.85"/><rect x="473.6" y="104.6" width="1.4" height="13.4" fill="#089981"/>
<path d="M476.4 100.5V104.6" stroke="#089981" stroke-width="0.7" opacity="0.85"/><rect x="475.7" y="101.0" width="1.4" height="3.6" fill="#089981"/>
<path d="M478.6 100.0V103.5" stroke="#f23645" stroke-width="0.7" opacity="0.85"/><rect x="477.9" y="101.0" width="1.4" height="1.5" fill="#f23645"/>
<path d="M480.7 102.0V107.6" stroke="#f23645" stroke-width="0.7" opacity="0.85"/><rect x="480.0" y="102.5" width="1.4" height="5.1" fill="#f23645"/>
<path d="M482.1 107.1V113.9" stroke="#f23645" stroke-width="0.7" opacity="0.85"/><rect x="481.4" y="107.6" width="1.4" height="5.3" fill="#f23645"/>
<path d="M484.3 112.9V119.0" stroke="#f23645" stroke-width="0.7" opacity="0.85"/><rect x="483.6" y="112.9" width="1.4" height="3.6" fill="#f23645"/>
<path d="M486.4 106.4V123.0" stroke="#089981" stroke-width="0.7" opacity="0.85"/><rect x="485.7" y="106.9" width="1.4" height="9.6" fill="#089981"/>
<path d="M488.6 100.0V108.4" stroke="#089981" stroke-width="0.7" opacity="0.85"/><rect x="487.9" y="105.3" width="1.4" height="1.6" fill="#089981"/>
<path d="M490.3 104.3V108.9" stroke="#f23645" stroke-width="0.7" opacity="0.85"/><rect x="489.6" y="105.3" width="1.4" height="3.2" fill="#f23645"/>
<path d="M492.1 105.9V114.5" stroke="#f23645" stroke-width="0.7" opacity="0.85"/><rect x="491.4" y="108.4" width="1.4" height="5.1" fill="#f23645"/>
<path d="M494.0 113.5V121.0" stroke="#f23645" stroke-width="0.7" opacity="0.85"/><rect x="493.3" y="113.5" width="1.4" height="7.0" fill="#f23645"/>
<path d="M496.0 120.5V131.5" stroke="#f23645" stroke-width="0.7" opacity="0.85"/><rect x="495.3" y="120.5" width="1.4" height="9.5" fill="#f23645"/>
<path d="M497.9 127.5V132.8" stroke="#f23645" stroke-width="0.7" opacity="0.85"/><rect x="497.2" y="130.0" width="1.4" height="1.3" fill="#f23645"/>
<path d="M500.0 128.4V132.8" stroke="#089981" stroke-width="0.7" opacity="0.85"/><rect x="499.3" y="128.4" width="1.4" height="2.9" fill="#089981"/>
<path d="M502.1 128.3V131.0" stroke="#f23645" stroke-width="0.7" opacity="0.85"/><rect x="501.4" y="128.3" width="1.4" height="1.2" fill="#f23645"/>
<path d="M504.3 127.0V135.9" stroke="#f23645" stroke-width="0.7" opacity="0.85"/><rect x="503.6" y="129.5" width="1.4" height="5.9" fill="#f23645"/>
<path d="M506.1 127.9V135.4" stroke="#089981" stroke-width="0.7" opacity="0.85"/><rect x="505.4" y="130.4" width="1.4" height="5.0" fill="#089981"/>
<path d="M508.1 129.9V137.0" stroke="#f23645" stroke-width="0.7" opacity="0.85"/><rect x="507.4" y="130.4" width="1.4" height="5.2" fill="#f23645"/>
<path d="M510.3 127.5V137.0" stroke="#089981" stroke-width="0.7" opacity="0.85"/><rect x="509.6" y="128.5" width="1.4" height="7.0" fill="#089981"/>
<path d="M512.4 127.5V133.2" stroke="#f23645" stroke-width="0.7" opacity="0.85"/><rect x="511.7" y="128.5" width="1.4" height="3.7" fill="#f23645"/>
<path d="M514.3 123.0V132.2" stroke="#089981" stroke-width="0.7" opacity="0.85"/><rect x="513.6" y="124.5" width="1.4" height="7.8" fill="#089981"/>
<path d="M516.4 123.5V138.4" stroke="#f23645" stroke-width="0.7" opacity="0.85"/><rect x="515.7" y="124.5" width="1.4" height="11.5" fill="#f23645"/>
<path d="M518.1 134.9V140.6" stroke="#f23645" stroke-width="0.7" opacity="0.85"/><rect x="517.4" y="135.9" width="1.4" height="3.2" fill="#f23645"/>
<path d="M520.3 137.6V143.5" stroke="#f23645" stroke-width="0.7" opacity="0.85"/><rect x="519.6" y="139.1" width="1.4" height="4.3" fill="#f23645"/>
<path d="M522.1 133.0V144.0" stroke="#089981" stroke-width="0.7" opacity="0.85"/><rect x="521.4" y="134.0" width="1.4" height="9.5" fill="#089981"/>
<path d="M524.3 129.0V135.5" stroke="#089981" stroke-width="0.7" opacity="0.85"/><rect x="523.6" y="130.5" width="1.4" height="3.5" fill="#089981"/>
<path d="M526.4 130.0V132.5" stroke="#f23645" stroke-width="0.7" opacity="0.85"/><rect x="525.7" y="130.5" width="1.4" height="2.0" fill="#f23645"/>
<path d="M528.6 129.4V133.0" stroke="#089981" stroke-width="0.7" opacity="0.85"/><rect x="527.9" y="130.9" width="1.4" height="1.6" fill="#089981"/>
<path d="M530.4 117.8V130.9" stroke="#089981" stroke-width="0.7" opacity="0.85"/><rect x="529.7" y="119.3" width="1.4" height="11.6" fill="#089981"/>
<path d="M532.1 119.3V135.5" stroke="#f23645" stroke-width="0.7" opacity="0.85"/><rect x="531.4" y="119.3" width="1.4" height="14.7" fill="#f23645"/>
<path d="M534.3 125.9V145.5" stroke="#089981" stroke-width="0.7" opacity="0.85"/><rect x="533.6" y="128.4" width="1.4" height="5.6" fill="#089981"/>
<path d="M536.1 126.9V140.1" stroke="#f23645" stroke-width="0.7" opacity="0.85"/><rect x="535.4" y="128.4" width="1.4" height="11.2" fill="#f23645"/>
<path d="M538.3 139.1V152.0" stroke="#f23645" stroke-width="0.7" opacity="0.85"/><rect x="537.6" y="139.6" width="1.4" height="12.4" fill="#f23645"/>
<path d="M540.4 148.9V154.5" stroke="#089981" stroke-width="0.7" opacity="0.85"/><rect x="539.7" y="148.9" width="1.4" height="3.1" fill="#089981"/>
<path d="M542.4 148.4V158.0" stroke="#f23645" stroke-width="0.7" opacity="0.85"/><rect x="541.7" y="148.9" width="1.4" height="7.7" fill="#f23645"/>
<path d="M544.3 156.5V174.5" stroke="#f23645" stroke-width="0.7" opacity="0.85"/><rect x="543.6" y="156.5" width="1.4" height="15.5" fill="#f23645"/>
<path d="M546.1 169.5V210.0" stroke="#f23645" stroke-width="0.7" opacity="0.85"/><rect x="545.4" y="172.0" width="1.4" height="38.0" fill="#f23645"/>
<path d="M548.1 183.2V210.0" stroke="#089981" stroke-width="0.7" opacity="0.85"/><rect x="547.4" y="185.7" width="1.4" height="24.3" fill="#089981"/>
<path d="M550.4 185.2V198.5" stroke="#f23645" stroke-width="0.7" opacity="0.85"/><rect x="549.7" y="185.7" width="1.4" height="2.9" fill="#f23645"/>
<path d="M552.4 187.6V194.1" stroke="#f23645" stroke-width="0.7" opacity="0.85"/><rect x="551.7" y="188.6" width="1.4" height="4.9" fill="#f23645"/>
<path d="M554.3 187.9V198.0" stroke="#089981" stroke-width="0.7" opacity="0.85"/><rect x="553.6" y="190.4" width="1.4" height="3.1" fill="#089981"/>
<path d="M556.0 182.3V190.4" stroke="#089981" stroke-width="0.7" opacity="0.85"/><rect x="555.3" y="182.3" width="1.4" height="8.1" fill="#089981"/>
<path d="M558.1 180.8V189.5" stroke="#f23645" stroke-width="0.7" opacity="0.85"/><rect x="557.4" y="182.3" width="1.4" height="1.4" fill="#f23645"/>
<path d="M560.0 171.5V184.7" stroke="#089981" stroke-width="0.7" opacity="0.85"/><rect x="559.3" y="172.0" width="1.4" height="11.7" fill="#089981"/>
<path d="M562.4 165.0V176.5" stroke="#089981" stroke-width="0.7" opacity="0.85"/><rect x="561.7" y="169.9" width="1.4" height="2.1" fill="#089981"/>
<path d="M564.3 168.4V173.7" stroke="#f23645" stroke-width="0.7" opacity="0.85"/><rect x="563.6" y="169.9" width="1.4" height="2.7" fill="#f23645"/>
<path d="M566.1 172.1V175.8" stroke="#f23645" stroke-width="0.7" opacity="0.85"/><rect x="565.4" y="172.1" width="1.4" height="1.2" fill="#f23645"/>
<path d="M568.1 170.4V173.1" stroke="#089981" stroke-width="0.7" opacity="0.85"/><rect x="567.4" y="171.9" width="1.4" height="1.2" fill="#089981"/>
<path d="M570.0 162.6V172.7" stroke="#089981" stroke-width="0.7" opacity="0.85"/><rect x="569.3" y="165.1" width="1.4" height="7.1" fill="#089981"/>
<path d="M572.1 162.0V167.6" stroke="#089981" stroke-width="0.7" opacity="0.85"/><rect x="571.4" y="162.5" width="1.4" height="2.6" fill="#089981"/>
<path d="M574.3 159.5V165.0" stroke="#089981" stroke-width="0.7" opacity="0.85"/><rect x="573.6" y="161.0" width="1.4" height="1.6" fill="#089981"/>
<path d="M576.4 160.5V164.5" stroke="#f23645" stroke-width="0.7" opacity="0.85"/><rect x="575.7" y="161.0" width="1.4" height="2.0" fill="#f23645"/>
<path d="M578.6 151.5V165.5" stroke="#089981" stroke-width="0.7" opacity="0.85"/><rect x="577.9" y="152.0" width="1.4" height="11.0" fill="#089981"/>
<path d="M580.7 144.2V152.0" stroke="#089981" stroke-width="0.7" opacity="0.85"/><rect x="580.0" y="144.7" width="1.4" height="7.3" fill="#089981"/>
<path d="M582.1 141.4V147.2" stroke="#089981" stroke-width="0.7" opacity="0.85"/><rect x="581.4" y="142.9" width="1.4" height="1.8" fill="#089981"/>
<path d="M584.3 139.5V145.2" stroke="#f23645" stroke-width="0.7" opacity="0.85"/><rect x="583.6" y="142.5" width="1.4" height="1.2" fill="#f23645"/>
<path d="M586.4 142.2V150.7" stroke="#f23645" stroke-width="0.7" opacity="0.85"/><rect x="585.7" y="143.2" width="1.4" height="7.5" fill="#f23645"/>
<path d="M588.6 148.5V151.2" stroke="#089981" stroke-width="0.7" opacity="0.85"/><rect x="587.9" y="149.0" width="1.4" height="1.7" fill="#089981"/>
<!-- RSI -->
<polyline points="8.4,314.6 14.0,313.0 18.0,311.0 22.0,304.0 26.0,298.0 31.0,293.0 36.0,286.0 41.0,281.0 47.0,279.0 51.0,282.0 56.0,288.0 62.0,294.0 68.0,299.0 74.0,304.0 80.0,307.0 85.0,307.4 90.0,305.0 96.0,302.0 101.0,297.0 106.0,290.0 110.0,285.0 114.0,282.4 120.0,284.0 126.0,288.0 132.0,296.0 137.0,302.0 139.0,304.4 144.0,305.0 149.0,309.0 155.0,313.6 159.4,316.0 165.0,315.4 171.0,312.4 177.0,307.0 183.0,300.0 188.0,293.6 193.0,290.6 197.0,290.6 202.0,293.4 208.0,295.0 212.0,295.4 216.0,300.0 221.0,305.0 227.0,307.0 233.0,310.0 239.0,312.0 244.0,311.6 249.0,310.4 255.0,309.6 260.0,308.0 265.0,309.6 271.0,312.0 276.0,310.6 282.0,311.6 287.6,311.6 292.0,307.0 297.0,300.0 303.0,293.6 309.0,289.0 314.0,287.6 319.0,288.4 324.0,289.0 329.0,293.0 334.0,299.0 339.0,303.0 343.0,303.6 348.0,301.4 353.0,301.0 358.0,298.0 363.0,293.6 368.0,291.0 373.0,290.4 379.0,292.0 385.0,295.6 390.0,298.0 395.0,297.0 401.0,296.0 406.0,292.0 411.0,284.0 417.0,278.0 423.0,276.6 429.0,276.0 435.0,276.0 439.0,277.0 444.0,275.0 449.0,272.6 455.0,271.6 461.0,273.6 467.0,278.0 473.0,283.0 479.0,285.6 485.0,287.0 491.0,289.0 497.0,293.0 503.0,298.0 509.0,302.4 515.0,305.0 521.0,309.0 527.0,307.0 533.0,304.0 539.0,305.0 545.0,308.6 548.0,310.0 554.0,314.0 560.0,316.6 565.0,316.4 570.0,313.6 574.0,308.0 579.0,303.0 584.0,296.0 588.0,292.4" fill="none" stroke="#f7d24f" stroke-width="1.15" stroke-linejoin="round"/>
<polyline points="8.4,316.6 10.0,306.0 13.0,301.0 17.0,296.0 19.0,299.0 20.4,277.0 22.4,275.0 24.4,270.4 26.0,273.6 28.6,279.0 31.0,278.4 33.0,275.6 35.0,278.6 38.0,277.0 40.0,280.0 42.4,286.0 45.0,290.0 47.0,290.0 48.4,285.0 50.0,293.0 51.6,301.0 53.0,302.0 54.6,292.4 56.6,306.0 58.6,313.0 61.0,307.0 64.6,299.4 66.6,303.0 68.4,307.0 70.0,303.0 72.4,307.0 74.4,316.0 76.4,317.0 79.0,307.0 82.0,306.0 84.4,310.4 86.4,301.0 88.4,290.0 91.0,289.0 93.6,287.0 96.0,283.0 98.0,279.0 100.4,278.0 103.0,273.6 106.0,271.6 108.4,278.0 111.0,280.0 112.6,286.0 114.4,298.0 116.0,299.0 118.4,298.0 120.0,295.0 122.4,304.0 124.0,306.0 126.4,302.0 129.0,301.0 131.0,310.0 133.0,319.6 135.0,311.0 137.0,306.0 138.6,308.0 141.0,301.0 143.0,297.0 145.0,299.0 147.0,316.0 149.0,323.0 151.0,329.0 153.0,322.4 155.0,326.0 157.0,330.0 159.0,334.0 161.0,314.0 163.0,307.0 165.0,306.0 167.0,296.0 169.0,287.0 170.6,289.0 173.0,280.0 175.0,288.0 177.0,295.0 179.4,296.0 181.4,294.4 183.0,296.4 184.6,289.0 186.6,289.6 189.0,285.4 191.4,285.4 193.0,289.0 195.0,294.0 197.0,292.4 199.0,301.0 201.0,303.6 202.6,296.0 205.0,303.0 207.4,306.0 209.4,300.0 211.0,296.0 213.4,307.0 215.0,312.0 217.0,334.0 219.0,318.0 221.0,307.6 223.0,307.0 225.4,306.0 227.4,308.0 229.4,315.0 231.4,313.6 233.4,314.0 236.0,308.0 238.6,305.4 240.6,308.0 243.4,316.4 245.4,312.0 247.0,310.0 249.0,318.0 251.0,306.0 253.0,297.4 255.0,301.6 257.0,301.0 259.0,304.0 261.4,315.0 264.0,317.0 267.0,321.0 269.4,324.4 271.0,318.0 272.0,312.0 273.6,309.0 275.6,310.4 277.6,306.0 279.6,307.4 281.6,304.0 283.6,302.0 287.0,303.0 289.6,293.0 291.0,294.0 293.0,289.0 295.0,287.0 297.4,280.0 299.4,283.0 302.0,281.0 304.4,280.0 307.4,279.0 309.0,289.0 311.0,292.0 313.0,294.0 315.6,300.0 317.6,301.0 320.0,297.0 322.0,292.4 324.0,294.0 326.0,299.0 328.6,306.0 331.0,316.0 333.0,309.0 335.0,310.4 337.4,313.6 339.6,307.0 342.0,300.0 344.0,294.0 345.6,286.0 347.6,285.0 349.0,294.6 351.4,289.0 353.6,296.4 355.6,287.0 357.4,286.4 359.4,283.4 361.6,289.0 364.0,294.0 367.0,297.4 369.4,290.0 372.0,290.0 374.4,292.4 377.4,295.0 379.6,301.0 381.6,307.0 383.6,309.0 385.6,301.0 387.6,306.6 389.6,301.0 391.6,293.0 394.0,289.0 395.6,286.0 399.0,289.6 402.0,279.0 404.4,273.0 407.0,268.0 410.0,261.0 412.0,258.4 413.4,276.0 416.0,280.0 418.0,284.0 420.0,276.4 422.0,278.0 424.0,288.0 426.0,287.0 428.0,282.0 430.0,280.0 432.0,271.0 434.0,268.4 436.0,276.0 438.0,265.0 440.0,258.4 442.0,266.0 444.0,269.0 446.0,264.0 447.6,259.4 449.4,272.0 452.0,283.0 453.6,278.0 456.0,284.4 458.0,284.0 460.0,281.0 462.0,284.0 463.4,282.6 466.0,287.0 469.0,292.0 472.0,293.0 474.0,284.4 476.0,280.4 478.0,283.0 480.0,285.0 482.0,293.0 484.0,296.0 486.0,289.0 488.0,287.4 490.0,290.0 492.0,298.0 494.0,304.0 496.0,312.4 498.0,314.0 500.6,307.4 503.0,311.0 504.0,312.0 506.0,306.0 508.0,309.6 510.0,306.4 512.4,305.6 514.0,301.0 516.0,307.0 518.0,313.6 520.0,314.0 522.0,306.0 523.6,299.0 526.0,302.4 528.0,296.4 530.0,288.4 532.0,300.0 535.0,304.0 537.0,312.0 538.4,315.6 540.0,315.0 542.0,320.0 544.4,331.0 546.4,340.6 548.0,320.0 550.0,321.0 552.0,321.6 554.0,320.0 556.4,316.0 558.4,310.0 560.0,303.0 562.4,301.0 564.4,303.0 566.0,305.0 568.4,302.0 571.0,297.6 574.0,293.0 577.0,292.4 579.0,288.0 581.0,280.0 583.0,276.4 584.4,277.0 586.0,285.0 588.0,285.6" fill="none" stroke="#7e57c2" stroke-width="1" stroke-linejoin="round"/>
<!-- annotations -->
<text x="275.5" y="129.8" font-size="9.3" fill="#63666f" textLength="29" lengthAdjust="spacingAndGlyphs" stroke="#63666f" stroke-width="0.08">SMA 50</text>
<text x="283.4" y="87.1" font-size="9.3" fill="#63666f" textLength="33.6" lengthAdjust="spacingAndGlyphs" stroke="#63666f" stroke-width="0.08">SMA 200</text>
<text x="571.5" y="101.5" font-size="10.4" stroke="#2f5bd8" stroke-width="0.15" fill="#2f5bd8" textLength="50" lengthAdjust="spacingAndGlyphs">Death Cross</text>
<path d="M576.4 107.9L559.7 132.4M558.6 127.4L559.7 132.4L565.5 131" fill="none" stroke="#787b86" stroke-width="0.8"/>
<!-- legend -->
<text x="14.2" y="25.8" font-size="9.9" fill="#131722" textLength="128.4" lengthAdjust="spacingAndGlyphs" stroke="#131722" stroke-width="0.08">XRP / TetherUS · 1h · BINANCE</text>
<text x="149" y="25.8" font-size="9.9" fill="#131722" textLength="5.3" lengthAdjust="spacingAndGlyphs" stroke="#131722" stroke-width="0.08">O</text><text x="154.9" y="25.8" font-size="9.9" fill="#089981" textLength="27.3" lengthAdjust="spacingAndGlyphs" stroke="#089981" stroke-width="0.08">2.1701</text>
<text x="188.9" y="25.8" font-size="9.9" fill="#131722" textLength="4.8" lengthAdjust="spacingAndGlyphs" stroke="#131722" stroke-width="0.08">H</text><text x="194.4" y="25.8" font-size="9.9" fill="#089981" textLength="27.3" lengthAdjust="spacingAndGlyphs" stroke="#089981" stroke-width="0.08">2.1744</text>
<text x="228.7" y="25.8" font-size="9.9" fill="#131722" textLength="4.0" lengthAdjust="spacingAndGlyphs" stroke="#131722" stroke-width="0.08">L</text><text x="233.4" y="25.8" font-size="9.9" fill="#089981" textLength="27.3" lengthAdjust="spacingAndGlyphs" stroke="#089981" stroke-width="0.08">2.1653</text>
<text x="267.3" y="25.8" font-size="9.9" fill="#131722" textLength="4.9" lengthAdjust="spacingAndGlyphs" stroke="#131722" stroke-width="0.08">C</text><text x="272.7" y="25.8" font-size="9.9" fill="#089981" textLength="27.3" lengthAdjust="spacingAndGlyphs" stroke="#089981" stroke-width="0.08">2.1721</text>
<text x="14.2" y="39.8" font-size="9.9" fill="#131722" textLength="78" lengthAdjust="spacingAndGlyphs" stroke="#131722" stroke-width="0.08">MA Cross (50, 200)</text>
<text x="97.8" y="39.8" font-size="9.9" fill="#ff6d00" textLength="27.5" lengthAdjust="spacingAndGlyphs" stroke="#ff6d00" stroke-width="0.08">2.1705</text>
<text x="131.4" y="39.8" font-size="9.9" fill="#4caf50" textLength="27.5" lengthAdjust="spacingAndGlyphs" stroke="#4caf50" stroke-width="0.08">2.1884</text>
<text x="14.2" y="259.3" font-size="9.9" fill="#131722" textLength="59.5" lengthAdjust="spacingAndGlyphs" stroke="#131722" stroke-width="0.08">RSI (14, close)</text>
<text x="80" y="259.3" font-size="9.9" fill="#7e57c2" textLength="22" lengthAdjust="spacingAndGlyphs" stroke="#7e57c2" stroke-width="0.08">56.31</text>
<text x="108.7" y="259.3" font-size="9.9" fill="#f7d24f" textLength="22.5" lengthAdjust="spacingAndGlyphs" stroke="#f7d24f" stroke-width="0.08">51.39</text>
<!-- price axis -->
<clipPath id="cp"><rect x="650" y="11" width="42" height="232.3"/></clipPath>
<g clip-path="url(#cp)"><text x="657" y="54.2" font-size="9.8" fill="#131722" textLength="28" lengthAdjust="spacingAndGlyphs" stroke="#131722" stroke-width="0.08">2.3500</text></g><g clip-path="url(#cp)"><text x="657" y="81.5" font-size="9.8" fill="#131722" textLength="28" lengthAdjust="spacingAndGlyphs" stroke="#131722" stroke-width="0.08">2.3000</text></g><g clip-path="url(#cp)"><text x="657" y="108.8" font-size="9.8" fill="#131722" textLength="28" lengthAdjust="spacingAndGlyphs" stroke="#131722" stroke-width="0.08">2.2500</text></g><g clip-path="url(#cp)"><text x="657" y="190.7" font-size="9.8" fill="#131722" textLength="28" lengthAdjust="spacingAndGlyphs" stroke="#131722" stroke-width="0.08">2.1000</text></g><g clip-path="url(#cp)"><text x="657" y="218.0" font-size="9.8" fill="#131722" textLength="28" lengthAdjust="spacingAndGlyphs" stroke="#131722" stroke-width="0.08">2.0500</text></g><g clip-path="url(#cp)"><text x="657" y="245.2" font-size="9.8" fill="#131722" textLength="28" lengthAdjust="spacingAndGlyphs" stroke="#131722" stroke-width="0.08">2.0000</text></g><text x="657" y="254.2" font-size="9.8" fill="#131722" textLength="23" lengthAdjust="spacingAndGlyphs" stroke="#131722" stroke-width="0.08">80.00</text><text x="657" y="283.0" font-size="9.8" fill="#131722" textLength="23" lengthAdjust="spacingAndGlyphs" stroke="#131722" stroke-width="0.08">60.00</text><text x="657" y="311.9" font-size="9.8" fill="#131722" textLength="23" lengthAdjust="spacingAndGlyphs" stroke="#131722" stroke-width="0.08">40.00</text><text x="657" y="340.8" font-size="9.8" fill="#131722" textLength="23" lengthAdjust="spacingAndGlyphs" stroke="#131722" stroke-width="0.08">20.00</text>
<rect x="652.5" y="14.5" width="36" height="19" rx="3" fill="#fff" stroke="#eaedf2" stroke-width="1"/>
<text x="660.4" y="27.5" font-size="10.1" fill="#131722" textLength="21.4" lengthAdjust="spacingAndGlyphs" stroke="#131722" stroke-width="0.08">USDT</text>
<path d="M650.5 130.5a2 2 0 0 1 2-2h34.5a2 2 0 0 1 2 2V142.3H650.5Z" fill="#4ea652"/>
<rect x="650.5" y="142.3" width="38.5" height="13.7" fill="#089981"/>
<path d="M650.5 156H689V166.9a2 2 0 0 1-2 2H652.5a2 2 0 0 1-2-2Z" fill="#ff6d00"/>
<text x="657.2" y="138.7" font-size="9.9" stroke="#fff" stroke-width="0.3" fill="#fff" textLength="28" lengthAdjust="spacingAndGlyphs">2.1884</text>
<text x="657.2" y="152.4" font-size="9.9" stroke="#fff" stroke-width="0.3" fill="#fff" textLength="28" lengthAdjust="spacingAndGlyphs">2.1721</text>
<text x="657.2" y="165.8" font-size="9.9" stroke="#fff" stroke-width="0.3" fill="#fff" textLength="28" lengthAdjust="spacingAndGlyphs">2.1705</text>
<path d="M650.5 280.5a2 2 0 0 1 2-2h29.5a2 2 0 0 1 2 2V291.6H650.5Z" fill="#7e57c2"/>
<path d="M650.5 291.6H684V303.1a2 2 0 0 1-2 2H652.5a2 2 0 0 1-2-2Z" fill="#fdd835"/>
<text x="657.5" y="288.4" font-size="9.9" stroke="#fff" stroke-width="0.3" fill="#fff" textLength="22.3" lengthAdjust="spacingAndGlyphs">56.31</text>
<text x="657.5" y="301.8" font-size="9.9" stroke="#131722" stroke-width="0.25" fill="#131722" textLength="22.3" lengthAdjust="spacingAndGlyphs">51.39</text>
<!-- time axis -->
<text x="32.4" y="376" font-size="9.4" fill="#131722" stroke="#131722" stroke-width="0.15" text-anchor="middle">26</text><text x="80.6" y="376" font-size="9.4" fill="#131722" stroke="#131722" stroke-width="0.15" text-anchor="middle">27</text><text x="128.7" y="376" font-size="9.4" fill="#131722" stroke="#131722" stroke-width="0.15" text-anchor="middle">28</text><text x="176.9" y="376" font-size="9.4" fill="#131722" stroke="#131722" stroke-width="0.15" text-anchor="middle">29</text><text x="225.1" y="376" font-size="9.4" fill="#131722" stroke="#131722" stroke-width="0.15" text-anchor="middle">30</text><text x="273.2" y="376" font-size="9.4" fill="#131722" stroke="#131722" stroke-width="0.15" text-anchor="middle">31</text><text x="321.4" y="376" font-size="9.4" fill="#131722" stroke="#131722" stroke-width="0.15" text-anchor="middle">Jun</text><text x="369.6" y="376" font-size="9.4" fill="#131722" stroke="#131722" stroke-width="0.15" text-anchor="middle">2</text><text x="417.8" y="376" font-size="9.4" fill="#131722" stroke="#131722" stroke-width="0.15" text-anchor="middle">3</text><text x="465.9" y="376" font-size="9.4" fill="#131722" stroke="#131722" stroke-width="0.15" text-anchor="middle">4</text><text x="514.1" y="376" font-size="9.4" fill="#131722" stroke="#131722" stroke-width="0.15" text-anchor="middle">5</text><text x="562.3" y="376" font-size="9.4" fill="#131722" stroke="#131722" stroke-width="0.15" text-anchor="middle">6</text><text x="610.4" y="376" font-size="9.4" fill="#131722" stroke="#131722" stroke-width="0.15" text-anchor="middle">7</text>
<!-- logo -->
<g fill="#131722"><path d="M7.9 392.9h7.1v7.1h-3.7v-3.9H7.9z"/><circle cx="16.9" cy="394.5" r="1.55"/><path d="M18.7 392.9h4.2L19.9 400h-4.2z"/></g>
<text x="25.7" y="401.7" font-size="10.3" fill="#131722" stroke="#131722" stroke-width="0.35" textLength="55" lengthAdjust="spacingAndGlyphs">TradingView</text>
</svg>
</body></html>
